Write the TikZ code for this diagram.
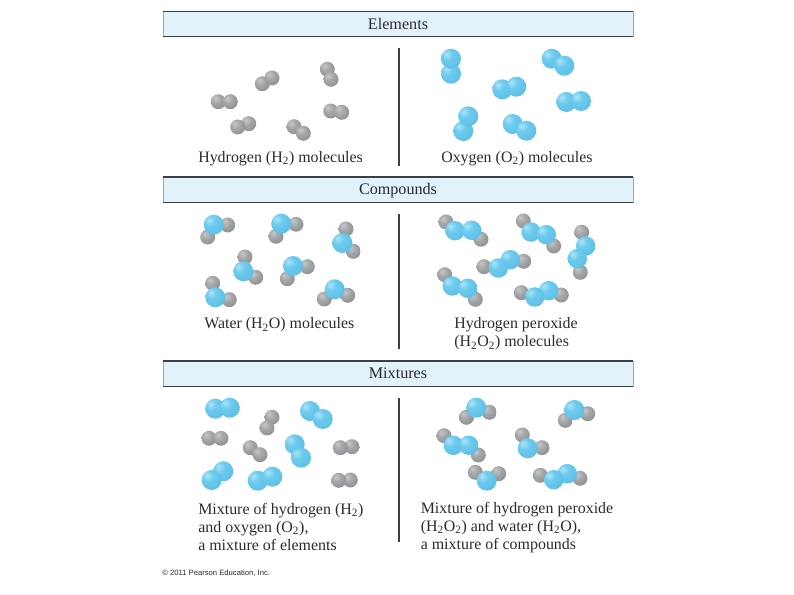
\documentclass[tikz,border=0pt]{standalone}
\usepackage{fontspec}
\setmainfont{Liberation Serif}
\setsansfont{Liberation Sans}
\usepackage{tikz}
\definecolor{bandblue}{HTML}{E2F2FB}
\definecolor{rulegray}{HTML}{3C3F42}
\definecolor{textgray}{HTML}{2A2A2A}
\definecolor{oxytop}{HTML}{ADE3F6}
\definecolor{oxymid}{HTML}{6CCBEE}
\definecolor{oxylow}{HTML}{5EBFE6}
\definecolor{oxyrim}{HTML}{4AA9D3}
\definecolor{hydtop}{HTML}{C6C7C9}
\definecolor{hydmid}{HTML}{A5A6A8}
\definecolor{hydlow}{HTML}{8E8F92}
\definecolor{hydrim}{HTML}{707174}
\pgfdeclareradialshading{oxyball}{\pgfpoint{-12bp}{12bp}}{
  color(0bp)=(oxytop); color(14bp)=(oxymid); color(34bp)=(oxylow); color(50bp)=(oxyrim); color(100bp)=(oxyrim)}
\pgfdeclareradialshading{hydball}{\pgfpoint{-10bp}{12bp}}{
  color(0bp)=(hydtop); color(16bp)=(hydmid); color(36bp)=(hydlow); color(52bp)=(hydrim); color(100bp)=(hydrim)}
\tikzset{
  oatom/.style={circle, inner sep=0pt, minimum size=15pt, shading=oxyball},
  patom/.style={oatom, minimum size=14.6pt},
  hatom/.style={circle, inner sep=0pt, minimum size=11.25pt, shading=hydball},
  band/.style={rectangle, draw=gray!70, line width=0.4pt, fill=bandblue, minimum width=352.5pt, minimum height=18.6pt, inner sep=0pt, text height=10.5pt, text depth=2.6pt, font=\fontsize{12.1pt}{14pt}\selectfont, text=textgray},
  caption/.style={align=left, inner sep=0pt, font=\fontsize{11.95pt}{13.5pt}\selectfont, text=textgray},
  divider/.style={line width=0.8pt, color=rulegray},
  bandrule/.style={line width=0.8pt, color=rulegray},
}
\begin{document}
\begin{tikzpicture}[x=0.75pt, y=-0.75pt]
  \useasboundingbox (0,0) rectangle (794,595);
  % bands
  \node[band] (elements) at (398,23.8) {Elements};
  \node[band] (compounds) at (398,189.7) {Compounds};
  \node[band] (mixtures) at (398,373.7) {Mixtures};
  \foreach \b in {elements,compounds,mixtures} {
    \draw[bandrule] (\b.north west) -- (\b.north east);
    \draw[bandrule] (\b.south west) -- (\b.south east);
  }
  % dividers
  \coordinate (d1a) at (399,47.7); \coordinate (d1b) at (399,165.7);
  \coordinate (d2a) at (399,214.3); \coordinate (d2b) at (399,349);
  \coordinate (d3a) at (399,398); \coordinate (d3b) at (399,541.7);
  \draw[divider] (d1a) -- (d1b);
  \draw[divider] (d2a) -- (d2b);
  \draw[divider] (d3a) -- (d3b);
  % hydrogen atoms, all panels
  \foreach \x/\y [count=\i] in {218.3/101.7, 230.3/101.7, 262.3/83.7, 272/78, 327.3/69.3, 331/79.3, 330.7/111, 341.7/112.3,
      248.7/123.7, 237.7/127, 294/126.7, 303.3/133.3,
      227.7/225, 207.7/237, 296/224.3, 276/236.3, 346/229, 353.3/251.3, 245/257, 255.7/277.3,
      307.3/266.7, 287.3/278.7, 212.7/283.3, 229.3/299.7, 324.3/299, 347.7/295.3,
      446/222, 481/239.3, 523.3/221, 553.7/246, 581.7/232.3, 580.3/272.3, 484/266.7, 523.7/261.3,
      444.7/274.7, 475.3/299.3, 521.3/292.7, 561.3/295,
      209/438.3, 221/438.3, 272/417.3, 267/428, 250.3/447.7, 260/454.7, 352/446.7, 340.3/447.7, 350.3/480, 338.7/480.3,
      489.3/412.3, 466.3/417.3, 587.7/413.7, 565.3/420.3, 444/435.7, 478.3/455, 522.3/435, 542/447.7,
      475.3/472.3, 498.7/473.7, 540.3/475.3, 580/478.3}
    \node[hatom] (h\i) at (\x,\y) {};
  % oxygen atoms, O2 and water
  \foreach \x/\y [count=\i] in {451/73.7, 451/58.7, 502.3/89.3, 516.3/86.7, 551.7/58.7, 564.3/65.7, 566.3/102, 581/101,
      463.3/131, 468.3/116.3, 512.7/124, 526.3/130.7,
      213.7/224.7, 281.3/223.7, 342.3/243, 243.3/271.3, 293/266, 215.3/297.3, 334.7/289.3,
      215.3/408.7, 229.7/407.7, 310/411, 322.7/419, 294.7/444.3, 301/457.7, 223.3/471.3, 211.7/480, 257.7/480.7, 272.3/476.7,
      476.3/407.7, 574.3/410, 527.7/448.3, 486.7/480.7}
    \node[oatom] (o\i) at (\x,\y) {};
  % oxygen atoms, peroxide
  \foreach \x/\y [count=\i] in {455/230.7, 471.7/230.3, 531/232, 546.3/234.7, 585.7/246, 577.3/258.7, 510.3/259.7, 498.3/268,
      452.3/286, 467.7/288.3, 548.7/290.7, 534.7/297, 453.3/445.3, 468.7/445.3, 567.3/473.7, 553.7/479.7}
    \node[patom] (p\i) at (\x,\y) {};
  % captions
  \node[caption, anchor=west] (hmol) at (198,158.4) {Hydrogen (H\textsubscript{2}) molecules};
  \node[caption, anchor=west] (omol) at (441,158.4) {Oxygen (O\textsubscript{2}) molecules};
  \node[caption, anchor=west] (wmol) at (204,325) {Water (H\textsubscript{2}O) molecules};
  \node[caption, anchor=west] (pmol) at (454,334) {Hydrogen peroxide\\(H\textsubscript{2}O\textsubscript{2}) molecules};
  \node[caption, anchor=west] (mixl) at (198,526.8) {Mixture of hydrogen (H\textsubscript{2})\\and oxygen (O\textsubscript{2}),\\a mixture of elements};
  \node[caption, anchor=west] (mixr) at (420.5,527.3) {Mixture of hydrogen peroxide\\(H\textsubscript{2}O\textsubscript{2}) and water (H\textsubscript{2}O),\\a mixture of compounds};
  \node[anchor=west, inner sep=0pt, font=\sffamily\fontsize{5.75pt}{7pt}\selectfont, text=textgray] (copy) at (162,573.7) {© 2011 Pearson Education, Inc.};
\end{tikzpicture}
\end{document}
